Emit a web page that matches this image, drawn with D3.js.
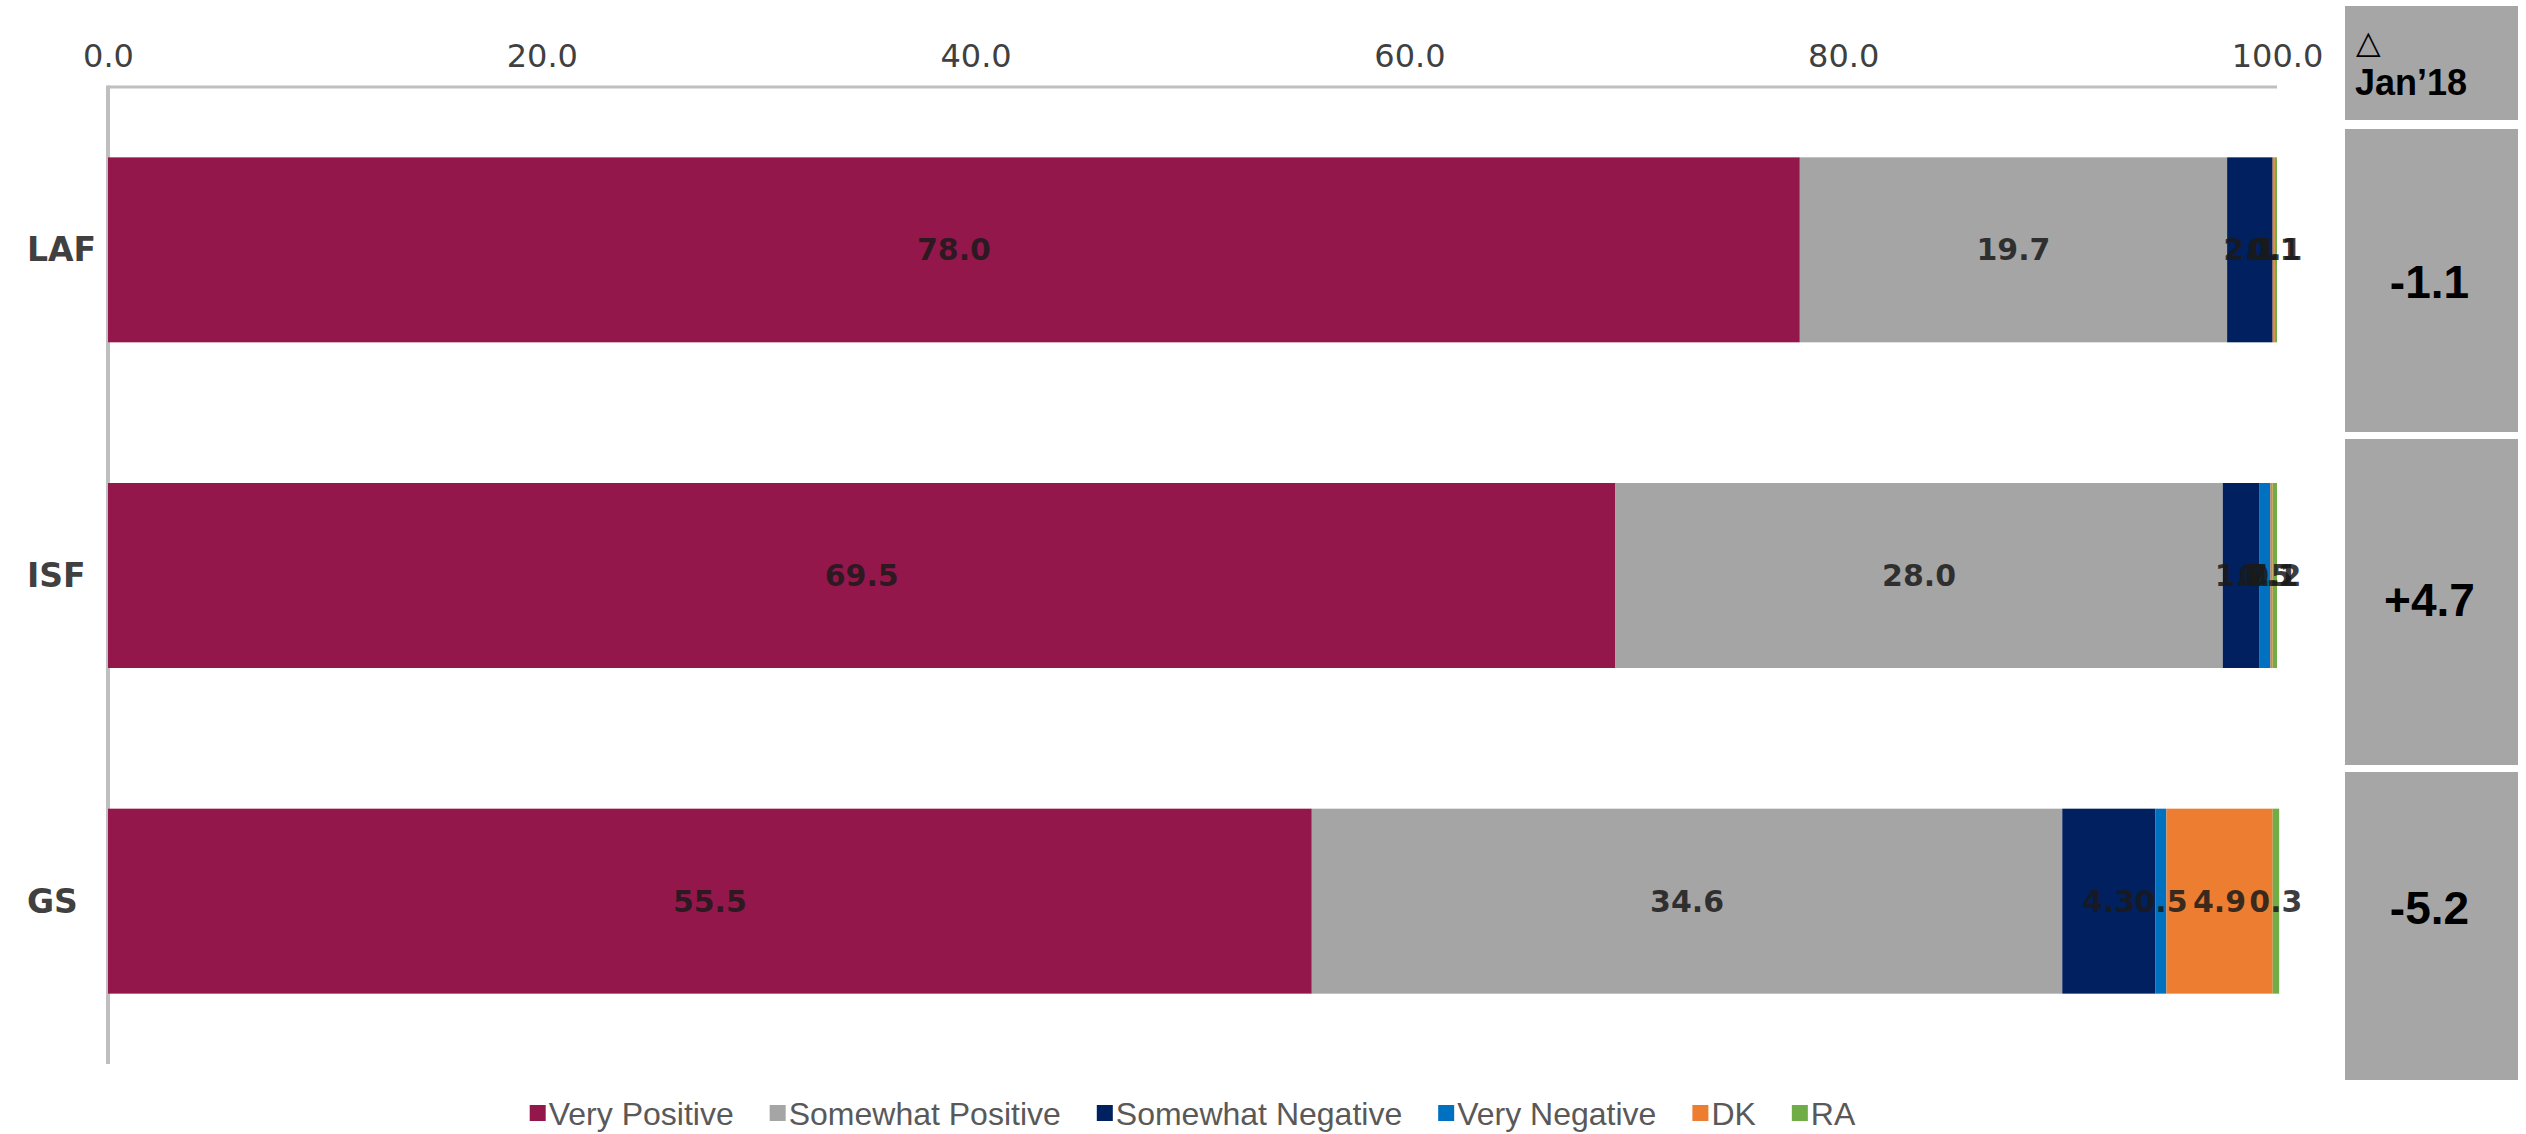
<!DOCTYPE html>
<html>
<head>
<meta charset="utf-8">
<script src="https://cdn.jsdelivr.net/npm/d3@7"></script>
<style>
  html, body { margin: 0; padding: 0; background: #ffffff; overflow: hidden; }
  svg { display: block; }
</style>
</head>
<body>
<svg id="chart" width="2526" height="1134"></svg>
<script>
// ---------------- DATA ----------------
const categories = ["LAF", "ISF", "GS"];
const seriesNames = ["Very Positive", "Somewhat Positive", "Somewhat Negative", "Very Negative", "DK", "RA"];
const seriesColors = ["#94174C", "#A5A5A5", "#002060", "#0070C0", "#ED7D31", "#70AD47"];
const veryPositive     = [78.0, 69.5, 55.5];
const somewhatPositive = [19.7, 28.0, 34.6];
const somewhatNegative = [2.1, 1.7, 4.3];
const veryNegative     = [0.0, 0.5, 0.5];
const dkValues         = [0.1, 0.1, 4.9];
const raValues         = [0.1, 0.2, 0.3];
const deltaHeader = ["\u25B3", "Jan\u201918"];
const deltaValues = ["-1.1", "+4.7", "-5.2"];
const xTicks = [0, 20, 40, 60, 80, 100];

// ---------------- LAYOUT ----------------
const svg = d3.select("#chart");
const plotLeft = 108, plotRight = 2277, plotTop = 87, plotBottom = 1064;

const seriesValues = [veryPositive, somewhatPositive, somewhatNegative, veryNegative, dkValues, raValues];
const rows = categories.map((c, i) => {
  const r = { category: c };
  seriesNames.forEach((s, j) => { r[s] = seriesValues[j][i]; });
  return r;
});
const stacked = d3.stack().keys(seriesNames)(rows);

const x = d3.scaleLinear().domain([0, 100]).range([plotLeft, plotRight]);
const y = d3.scaleBand().domain(categories).range([plotTop, plotBottom])
  .paddingInner(0.432).paddingOuter(0.216);
const color = d3.scaleOrdinal().domain(seriesNames).range(seriesColors);

// Top axis
const axisG = svg.append("g").attr("transform", `translate(0,${plotTop})`)
  .call(d3.axisTop(x).tickValues(xTicks).tickFormat(d3.format(".1f")).tickSize(0).tickPadding(20));
axisG.select(".domain").remove();
axisG.selectAll("text")
  .attr("font-family", "'DejaVu Sans', Verdana, sans-serif")
  .attr("font-size", 32)
  .attr("fill", "#404040");

// Axis lines
svg.append("line").attr("x1", plotLeft).attr("x2", plotRight).attr("y1", plotTop).attr("y2", plotTop)
  .attr("stroke", "#BFBFBF").attr("stroke-width", 3);
svg.append("line").attr("x1", plotLeft).attr("x2", plotLeft).attr("y1", plotTop - 1.5).attr("y2", plotBottom)
  .attr("stroke", "#BFBFBF").attr("stroke-width", 4);

// Bars
const layers = svg.append("g").selectAll("g").data(stacked).join("g")
  .attr("fill", d => color(d.key));
layers.selectAll("rect").data(d => d).join("rect")
  .attr("x", d => x(d[0]))
  .attr("width", d => x(d[1]) - x(d[0]))
  .attr("y", d => y(d.data.category))
  .attr("height", y.bandwidth());

// Segment labels
const labelG = svg.append("g");
stacked.forEach(layer => {
  layer.forEach(d => {
    const v = d[1] - d[0];
    if (v <= 0) return;
    labelG.append("text")
      .attr("x", x((d[0] + d[1]) / 2))
      .attr("y", y(d.data.category) + y.bandwidth() / 2)
      .attr("text-anchor", "middle")
      .attr("dominant-baseline", "central")
      .attr("font-family", "'DejaVu Sans', Verdana, sans-serif")
      .attr("font-weight", "bold")
      .attr("font-size", 30)
      .attr("fill", "#1A1A1A")
      .attr("fill-opacity", 0.85)
      .text(d3.format(".1f")(d.data[layer.key]));
  });
});

// Category labels
svg.append("g").selectAll("text").data(categories).join("text")
  .attr("x", 27)
  .attr("y", d => y(d) + y.bandwidth() / 2)
  .attr("dominant-baseline", "central")
  .attr("font-family", "'DejaVu Sans', Verdana, sans-serif")
  .attr("font-weight", "bold")
  .attr("font-size", 33)
  .attr("fill", "#404040")
  .text(d => d);

// Right delta panel
const panelX = 2345, panelW = 173;
const cellTops = [129, 439, 772];
const cellBottoms = [432, 765, 1080];
const textCenters = [282, 600, 908];
svg.append("rect").attr("x", panelX).attr("y", 6).attr("width", panelW).attr("height", 114).attr("fill", "#A6A6A6");
svg.append("text").attr("x", 2356).attr("y", 53)
  .attr("font-family", "'DejaVu Sans', sans-serif").attr("font-size", 32).attr("fill", "#000")
  .text(deltaHeader[0]);
svg.append("text").attr("x", 2355).attr("y", 95)
  .attr("font-family", "'Liberation Sans', Arial, sans-serif").attr("font-weight", "bold")
  .attr("font-size", 36).attr("fill", "#000")
  .text(deltaHeader[1]);
const cells = svg.append("g").selectAll("g").data(deltaValues).join("g");
cells.append("rect")
  .attr("x", panelX).attr("width", panelW)
  .attr("y", (d, i) => cellTops[i])
  .attr("height", (d, i) => cellBottoms[i] - cellTops[i])
  .attr("fill", "#A6A6A6");
cells.append("text")
  .attr("x", panelX + panelW / 2 - 2)
  .attr("y", (d, i) => textCenters[i])
  .attr("text-anchor", "middle")
  .attr("dominant-baseline", "central")
  .attr("font-family", "'Liberation Sans', Arial, sans-serif")
  .attr("font-weight", "bold")
  .attr("font-size", 46)
  .attr("fill", "#000")
  .text(d => d);

// Legend
const legendG = svg.append("g");
const legendFont = 32, markerSize = 16, markerGap = 3, itemGap = 36;
let lx = 0;
seriesNames.forEach((name, i) => {
  const g = legendG.append("g").attr("transform", `translate(${lx},0)`);
  g.append("rect").attr("x", 0).attr("y", -markerSize / 2 - 1).attr("width", markerSize).attr("height", markerSize)
    .attr("fill", seriesColors[i]);
  const t = g.append("text").attr("x", markerSize + markerGap).attr("y", 0)
    .attr("dominant-baseline", "central")
    .attr("font-family", "'Liberation Sans', Arial, sans-serif")
    .attr("font-size", legendFont)
    .attr("fill", "#595959")
    .text(name);
  lx += markerSize + markerGap + t.node().getComputedTextLength() + itemGap;
});
const legendWidth = lx - itemGap;
legendG.attr("transform", `translate(${(plotLeft + plotRight) / 2 - legendWidth / 2},1114)`);
</script>
</body>
</html>
